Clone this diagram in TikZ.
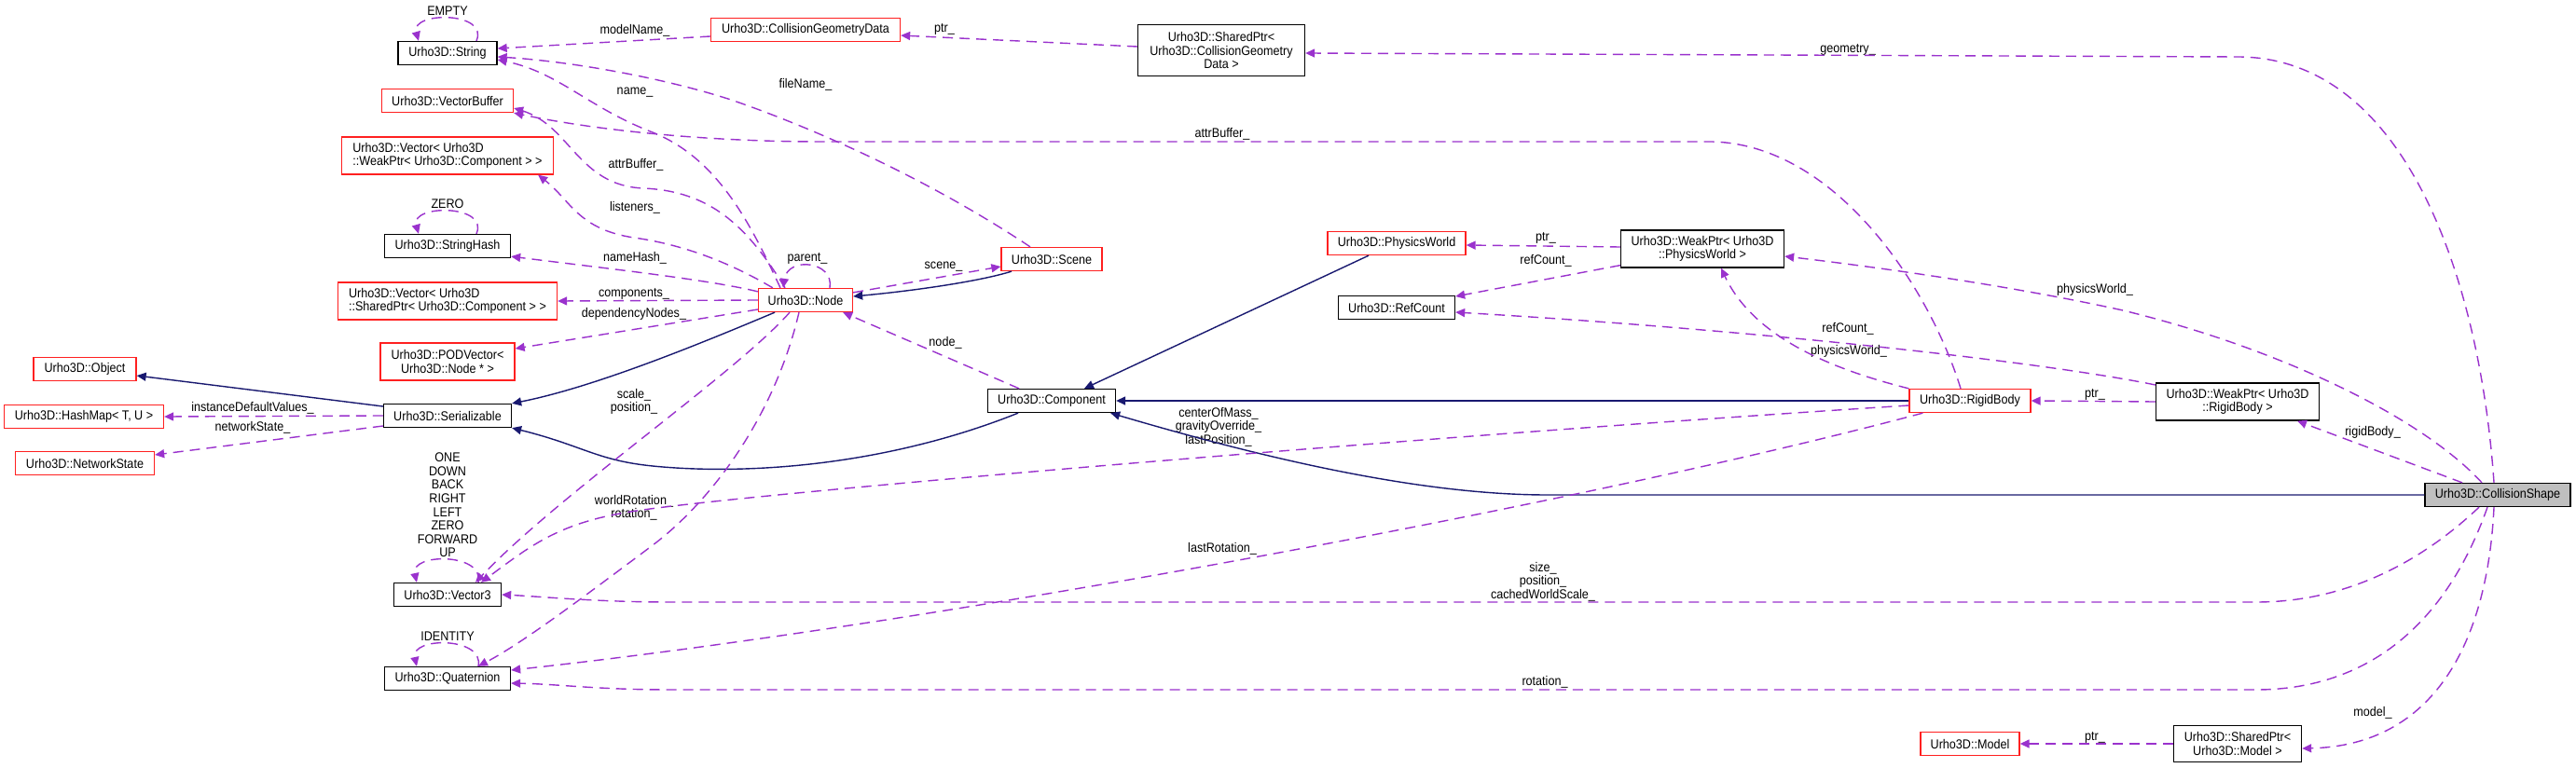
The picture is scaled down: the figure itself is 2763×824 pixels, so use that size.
\documentclass[tikz,border=0pt]{standalone}
\usepackage{fontspec}
\newfontfamily\dgfamily{Liberation Sans}[FakeStretch=0.9]
\usepackage{tikz}
\usetikzlibrary{arrows.meta,calc}
\usepackage{xcolor}
\definecolor{docred}{HTML}{FF2020}
\definecolor{inhblue}{HTML}{191970}
\definecolor{usepurple}{HTML}{9A32CD}
\definecolor{curgray}{HTML}{BFBFBF}
\newcommand{\dgfont}{\dgfamily\fontsize{7}{7.3}\selectfont}
\tikzset{
  box/.style={draw, line width=0.65pt, fill=white, font=\dgfont, align=center, inner xsep=5pt, inner ysep=2pt, minimum height=12.5pt},
  cls/.style={box, draw=black},
  ext/.style={box, draw=docred},
  cur/.style={box, draw=black, fill=curgray},
  lbl/.style={font=\dgfont, align=center, inner sep=0pt},
  inh/.style={-{Triangle[length=5pt,width=4.5pt]}, line width=0.7pt, color=inhblue},
  dep/.style={-{Triangle[length=5pt,width=4.5pt]}, line width=0.7pt, color=usepurple, dash pattern=on 5.5pt off 3.5pt},
}

\begin{document}
\begin{tikzpicture}[x=0.5pt, y=-0.5pt]
    \path[use as bounding box, fill=white] (0,0) rectangle (2763,824);
    \node[cls, minimum width=53pt] (str) at (480,57) {Urho3D::String};
    \node[ext, minimum width=70.5pt] (vbuf) at (480,108) {Urho3D::VectorBuffer};
    \node[ext, minimum width=113.5pt, minimum height=20pt, align=left] (vwp) at (480,167) {Urho3D::Vector< Urho3D\\::WeakPtr< Urho3D::Component > >};
    \node[cls, minimum width=67.5pt] (shash) at (480,264) {Urho3D::StringHash};
    \node[ext, minimum width=117.5pt, minimum height=20pt, align=left] (vsp) at (480,323) {Urho3D::Vector< Urho3D\\::SharedPtr< Urho3D::Component > >};
    \node[ext, minimum width=72pt, minimum height=20pt] (podv) at (480,388) {Urho3D::PODVector<\\Urho3D::Node * >};
    \node[ext, minimum width=55pt] (obj) at (91,396) {Urho3D::Object};
    \node[cls, minimum width=68.5pt] (ser) at (480,446) {Urho3D::Serializable};
    \node[ext, minimum width=85.5pt] (hmap) at (90,447) {Urho3D::HashMap< T, U >};
    \node[ext, minimum width=74.5pt] (nstate) at (91,497) {Urho3D::NetworkState};
    \node[cls, minimum width=57.5pt] (vec3) at (480,638) {Urho3D::Vector3};
    \node[cls, minimum width=67.5pt] (quat) at (480,728) {Urho3D::Quaternion};
    \node[ext, minimum width=101.5pt] (cgd) at (864,32) {Urho3D::CollisionGeometryData};
    \node[cls, minimum width=89.5pt, minimum height=27.5pt] (spcgd) at (1310,54) {Urho3D::SharedPtr<\\Urho3D::CollisionGeometry\\Data >};
    \node[ext, minimum width=50.5pt] (unode) at (864,322) {Urho3D::Node};
    \node[ext, minimum width=54pt] (scene) at (1128,278) {Urho3D::Scene};
    \node[cls, minimum width=68.5pt] (comp) at (1128,430) {Urho3D::Component};
    \node[ext, minimum width=74pt] (pworld) at (1498,261) {Urho3D::PhysicsWorld};
    \node[cls, minimum width=87.5pt, minimum height=20pt] (wppw) at (1826,267) {Urho3D::WeakPtr< Urho3D\\::PhysicsWorld >};
    \node[cls, minimum width=62.5pt] (refc) at (1498,330) {Urho3D::RefCount};
    \node[ext, minimum width=65pt] (rbody) at (2113,430) {Urho3D::RigidBody};
    \node[cls, minimum width=87.5pt, minimum height=20pt] (wprb) at (2400,431) {Urho3D::WeakPtr< Urho3D\\::RigidBody >};
    \node[cur, minimum width=78pt] (cshape) at (2679,531) {Urho3D::CollisionShape};
    \node[ext, minimum width=53pt] (model) at (2113,798) {Urho3D::Model};
    \node[cls, minimum width=68.5pt, minimum height=19.5pt] (spmodel) at (2400,798) {Urho3D::SharedPtr<\\Urho3D::Model >};

    \node[lbl] (lEmpty) at (480,12) {EMPTY};
    \node[lbl] (lModelName) at (681,33) {modelName\_};
    \node[lbl] (lPtrGeo) at (1013,31) {ptr\_};
    \node[lbl] (lGeometry) at (1982,53) {geometry\_};
    \node[lbl] (lName) at (681,99) {name\_};
    \node[lbl] (lFileName) at (864,91) {fileName\_};
    \node[lbl] (lAttrLong) at (1311,144) {attrBuffer\_};
    \node[lbl] (lAttr) at (682,177) {attrBuffer\_};
    \node[lbl] (lListeners) at (681,223) {listeners\_};
    \node[lbl] (lZero) at (480,219) {ZERO};
    \node[lbl] (lNameHash) at (681,277) {nameHash\_};
    \node[lbl] (lParent) at (866,277) {parent\_};
    \node[lbl] (lScene) at (1012,286) {scene\_};
    \node[lbl] (lComponents) at (680,315) {components\_};
    \node[lbl] (lDependency) at (680,337) {dependencyNodes\_};
    \node[lbl] (lNode) at (1014,368) {node\_};
    \node[lbl] (lPtrWorld) at (1658,255) {ptr\_};
    \node[lbl] (lRefCountA) at (1658,280) {refCount\_};
    \node[lbl] (lRefCountB) at (1982,353) {refCount\_};
    \node[lbl] (lWorldA) at (1983,377) {physicsWorld\_};
    \node[lbl] (lWorldB) at (2247,311) {physicsWorld\_};
    \node[lbl] (lPtrBody) at (2247,423) {ptr\_};
    \node[lbl] (lRigidBody) at (2545,464) {rigidBody\_};
    \node[lbl] (lInstance) at (271,438) {instanceDefaultValues\_};
    \node[lbl] (lNetwork) at (271,459) {networkState\_};
    \node[lbl] (lScalePos) at (680,431) {scale\_\\position\_};
    \node[lbl] (lMass) at (1307,458) {centerOfMass\_\\gravityOverride\_\\lastPosition\_};
    \node[lbl] (lWorldRot) at (680,545) {worldRotation\_\\rotation\_};
    \node[lbl] (lVecConst) at (480,542) {ONE\\DOWN\\BACK\\RIGHT\\LEFT\\ZERO\\FORWARD\\UP};
    \node[lbl] (lLastRot) at (1311,589) {lastRotation\_};
    \node[lbl] (lSize) at (1655,624) {size\_\\position\_\\cachedWorldScale\_};
    \node[lbl] (lIdentity) at (480,683) {IDENTITY};
    \node[lbl] (lRotation) at (1657,732) {rotation\_};
    \node[lbl] (lModel) at (2545,765) {model\_};
    \node[lbl] (lPtrModel) at (2247,791) {ptr\_};

    \draw[inh] ($(ser.west)+(0,-10)$) -- ($(obj.east)+(0,7)$);
    \draw[inh] ($(unode.south)+(-33,0)$) .. controls (760,365) and (640,415) .. (ser.north east);
    \draw[inh] ($(comp.south)+(-36,0)$) .. controls (950,500) and (800,510) .. (700,500) .. controls (640,494) and (625,478) .. (ser.south east);
    \draw[inh] ($(scene.south)+(-43,0)$) .. controls (1050,302) and (980,312) .. ($(unode.east)+(0,-4)$);
    \draw[inh] ($(pworld.south)+(-30,0)$) -- ($(comp.north)+(35,0)$);
    \draw[inh] (rbody.west) -- (comp.east);
    \draw[inh] (cshape.west) -- (1660,531) .. controls (1520,531) and (1350,490) .. ($(comp.south east)+(-6,0)$);

    \draw[dep] ($(str.north)+(31,0)$) .. controls (525,12) and (440,12) .. ($(str.north)+(-31,0)$);
    \draw[dep] ($(cgd.west)+(0,7)$) -- ($(str.east)+(0,-5)$);
    \draw[dep] ($(unode.north)+(-27,0)$) .. controls (805,240) and (770,170) .. (700,142) .. controls (630,115) and (600,78) .. ($(str.east)+(0,7)$);
    \draw[dep] ($(scene.north)+(-23,0)$) .. controls (1000,195) and (880,140) .. (784,107) .. controls (700,80) and (600,65) .. ($(str.east)+(0,4)$);
    \draw[dep] ($(unode.north)+(-22,0)$) .. controls (800,240) and (760,205) .. (690,202) .. controls (620,199) and (612,135) .. ($(vbuf.east)+(0,8)$);
    \draw[dep] ($(rbody.north)+(-10,0)$) .. controls (2070,310) and (1970,155) .. (1836,152) -- (880,152) .. controls (760,152) and (640,140) .. (vbuf.south east);
    \draw[dep] ($(unode.north west)+(16,0)$) .. controls (780,280) and (730,262) .. (680,255) .. controls (620,246) and (612,215) .. ($(vwp.south east)+(-17,0)$);
    \draw[dep] ($(shash.north)+(31,0)$) .. controls (525,219) and (440,219) .. ($(shash.north)+(-31,0)$);
    \draw[dep] ($(unode.north west)+(0,4)$) .. controls (760,300) and (650,288) .. ($(shash.south east)+(0,-2)$);
    \draw[dep] (unode.west) -- (vsp.east);
    \draw[dep] ($(unode.west)+(0,10)$) -- ($(podv.east)+(0,-14)$);
    \draw[dep] (ser.west) -- (hmap.east);
    \draw[dep] ($(ser.west)+(0,11)$) -- ($(nstate.east)+(0,-9)$);
    \draw[dep] ($(vec3.north)+(33,0)$) .. controls (520,593) and (440,593) .. ($(vec3.north)+(-33,0)$);
    \draw[dep] ($(unode.south)+(-17,0)$) .. controls (790,400) and (600,530) .. ($(vec3.north)+(30,0)$);
    \draw[dep] ($(rbody.west)+(0,5)$) .. controls (1500,470) and (800,530) .. (683,548) .. controls (600,560) and (570,585) .. ($(vec3.north)+(36,0)$);
    \draw[dep] ($(cshape.south)+(-20,0)$) .. controls (2600,600) and (2520,646) .. (2420,646) -- (720,646) .. controls (640,646) and (580,640) .. (vec3.east);
    \draw[dep] ($(quat.north)+(33,0)$) .. controls (520,683) and (440,683) .. ($(quat.north)+(-33,0)$);
    \draw[dep] ($(unode.south)+(-7,0)$) .. controls (830,450) and (760,540) .. (700,585) .. controls (620,645) and (560,690) .. ($(quat.north)+(33,0)$);
    \draw[dep] ($(rbody.south west)+(15,0)$) .. controls (1700,540) and (1000,670) .. ($(quat.east)+(0,-9)$);
    \draw[dep] ($(cshape.south)+(-11,0)$) .. controls (2620,680) and (2530,740) .. (2420,740) -- (720,740) .. controls (640,740) and (600,734) .. ($(quat.east)+(0,5)$);
    \draw[dep] ($(unode.north)+(26,0)$) .. controls (895,280) and (845,275) .. ($(unode.north)+(-24,0)$);
    \draw[dep] ($(unode.north east)+(0,5)$) -- ($(scene.west)+(0,8)$);
    \draw[dep] ($(comp.north)+(-35,0)$) -- ($(unode.south east)+(-11,0)$);
    \draw[dep] ($(wppw.west)+(0,-2)$) -- ($(pworld.east)+(0,2)$);
    \draw[dep] ($(wppw.south west)+(0,-3)$) -- ($(refc.east)+(0,-12)$);
    \draw[dep] ($(wprb.west)+(0,-18)$) .. controls (2200,390) and (1900,355) .. ($(refc.east)+(0,5)$);
    \draw[dep] (rbody.north west) .. controls (1960,395) and (1880,360) .. ($(wppw.south)+(20,0)$);
    \draw[dep] ($(cshape.north)+(-17,0)$) .. controls (2600,450) and (2450,375) .. (2277,333) .. controls (2150,305) and (2000,285) .. ($(wppw.east)+(0,8)$);
    \draw[dep] ($(cshape.north)+(-4,0)$) .. controls (2660,300) and (2580,61) .. (2400,61) -- ($(spcgd.east)+(0,3)$);
    \draw[dep] ($(spcgd.west)+(0,-4)$) -- ($(cgd.east)+(0,6)$);
    \draw[dep] (wprb.west) -- (rbody.east);
    \draw[dep] ($(cshape.north)+(-38,0)$) -- ($(wprb.south)+(64,0)$);
    \draw[dep] ($(cshape.south)+(-4,0)$) .. controls (2668,690) and (2610,800) .. ($(spmodel.east)+(0,5)$);
    \draw[dep] (spmodel.west) -- (model.east);
\end{tikzpicture}
\end{document}
